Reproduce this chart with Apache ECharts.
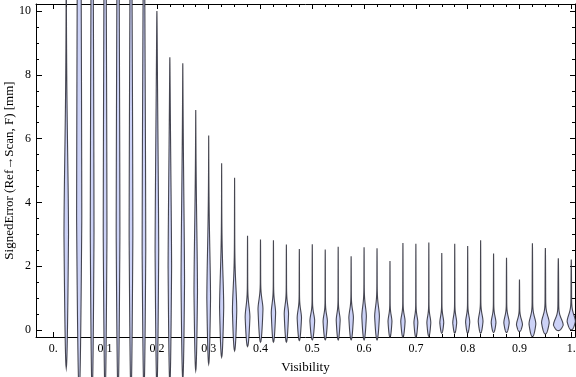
<!DOCTYPE html>
<html lang="en">
<head>
<meta charset="UTF-8">
<title>Violin chart</title>
<script src="https://cdn.jsdelivr.net/npm/echarts@6/dist/echarts.min.js"></script>
<style>html,body{margin:0;padding:0;background:#fff;}</style>
</head>
<body>
<div id="container" style="width:576px;height:377px;"></div>
<script>
// visibility bins
var positions = [0.025, 0.05, 0.075, 0.1, 0.125, 0.15, 0.175, 0.2, 0.225, 0.25,
                 0.275, 0.3, 0.325, 0.35, 0.375, 0.4, 0.425, 0.45, 0.475, 0.5,
                 0.525, 0.55, 0.575, 0.6, 0.625, 0.65, 0.675, 0.7, 0.725, 0.75,
                 0.775, 0.8, 0.825, 0.85, 0.875, 0.9, 0.925, 0.95, 0.975, 1.0];
// lowest / highest signed error in each bin (mm)
var lows = [-1.19, -2.0, -2.0, -2.0, -2.0, -2.0, -1.9, -1.8, -1.7, -1.55,
            -1.27, -1.06, -0.85, -0.65, -0.52, -0.38, -0.38, -0.38, -0.33, -0.31,
            -0.31, -0.31, -0.31, -0.31, -0.31, -0.23, -0.23, -0.23, -0.2, -0.1,
            -0.1, -0.1, -0.1, -0.08, -0.08, -0.05, -0.21, -0.13, -0.02, 0.0];
var highs = [12.5, 30, 25, 25, 25, 22, 20, 10.0, 8.55, 8.36,
             6.9, 6.1, 5.23, 4.77, 2.95, 2.84, 2.81, 2.68, 2.54, 2.69,
             2.52, 2.61, 2.31, 2.59, 2.56, 2.16, 2.73, 2.70, 2.74, 2.41,
             2.70, 2.63, 2.81, 2.40, 2.26, 1.58, 2.72, 2.57, 2.25, 2.21];
// where each violin is widest (mm)
var modes = [3.0, 3.5, 3.0, 3.0, 3.0, 3.0, 2.5, 2.5, 2.0, 1.5,
             1.2, 1.0, 0.7, 0.6, 0.4, 0.65, 0.53, 0.5, 0.37, 0.28,
             0.26, 0.3, 0.38, 0.42, 0.42, 0.26, 0.26, 0.22, 0.22, 0.22,
             0.22, 0.24, 0.26, 0.22, 0.22, 0.16, 0.18, 0.22, 0.15, 0.26];
// widest half width (visibility units)
var halfWidths = [0.0044, 0.0050, 0.0036, 0.0036, 0.0036, 0.0036, 0.0035, 0.0035, 0.0034, 0.0034,
                  0.0034, 0.0036, 0.0040, 0.0042, 0.0046, 0.0048, 0.0042, 0.0042, 0.0042, 0.0046,
                  0.0042, 0.0038, 0.0044, 0.0044, 0.0046, 0.0038, 0.0042, 0.0038, 0.0038, 0.0038,
                  0.0038, 0.0040, 0.0046, 0.0046, 0.0052, 0.0058, 0.0066, 0.0074, 0.0094, 0.0080];
// how far the bulge reaches upward (mm)
var spreads = [3.0, 15, 10, 10, 10, 9, 8, 5, 4, 3.5,
               2.5, 1.8, 1.2, 0.8, 0.35, 0.3, 0.3, 0.28, 0.25, 0.22,
               0.22, 0.22, 0.25, 0.32, 0.32, 0.2, 0.2, 0.2, 0.2, 0.2,
               0.2, 0.2, 0.22, 0.2, 0.2, 0.18, 0.22, 0.22, 0.2, 0.22];

var xTicks = [0, 0.1, 0.2, 0.3, 0.4, 0.5, 0.6, 0.7, 0.8, 0.9, 1.0];
var xTickLabels = ['0.', '0.1', '0.2', '0.3', '0.4', '0.5', '0.6', '0.7', '0.8', '0.9', '1.'];
var xMinor = [0.025, 0.05, 0.075, 0.125, 0.15, 0.175, 0.225, 0.25, 0.275, 0.325, 0.35, 0.375,
              0.425, 0.45, 0.475, 0.525, 0.55, 0.575, 0.625, 0.65, 0.675, 0.725, 0.75, 0.775,
              0.825, 0.85, 0.875, 0.925, 0.95, 0.975];
var yTicks = [0, 2, 4, 6, 8, 10];
var yTickLabels = ['0', '2', '4', '6', '8', '10'];
var yMinor = [0.5, 1, 1.5, 2.5, 3, 3.5, 4.5, 5, 5.5, 6.5, 7, 7.5, 8.5, 9, 9.5];

var xMin = -0.0334, xMax = 1.0072, yMin = -0.22, yMax = 10.22;
var font = '"Liberation Serif", "DejaVu Serif", serif';

function makeAxis(pos, min, max, ticks, len, main) {
    return {
        type: 'value', position: pos, min: min, max: max,
        axisLine: {show: main, onZero: false, lineStyle: {color: '#000', width: 1}},
        axisTick: {show: true, inside: true, length: len, customValues: ticks, lineStyle: {color: '#000'}},
        axisLabel: {show: false},
        splitLine: {show: false}
    };
}

var xAxes = [makeAxis('bottom', xMin, xMax, xTicks, 5, true), makeAxis('bottom', xMin, xMax, xMinor, 3, false),
             makeAxis('top', xMin, xMax, xTicks, 5, true), makeAxis('top', xMin, xMax, xMinor, 3, false)];
xAxes[0].axisLabel = {
    show: true, customValues: xTicks, margin: 6, color: '#000', fontFamily: font, fontSize: 12,
    formatter: function (v) { return xTickLabels[xTicks.indexOf(v)]; }
};
xAxes[0].name = 'Visibility';
xAxes[0].nameLocation = 'middle';
xAxes[0].nameGap = 24;
xAxes[0].nameMoveOverlap = false;
xAxes[0].nameTextStyle = {color: '#000', fontFamily: font, fontSize: 13};

var yAxes = [makeAxis('left', yMin, yMax, yTicks, 6, true), makeAxis('left', yMin, yMax, yMinor, 3, false),
             makeAxis('right', yMin, yMax, yTicks, 5, true), makeAxis('right', yMin, yMax, yMinor, 3, false)];
yAxes[0].axisLabel = {
    show: true, customValues: yTicks, margin: 5, color: '#000', fontFamily: font, fontSize: 12,
    formatter: function (v) { return yTickLabels[yTicks.indexOf(v)]; }
};
yAxes[0].name = 'SignedError (Ref\u2192Scan, F) [mm]';
yAxes[0].nameLocation = 'middle';
yAxes[0].nameGap = 20;
yAxes[0].nameMoveOverlap = false;
yAxes[0].nameTextStyle = {color: '#000', fontFamily: font, fontSize: 13};

var violinData = positions.map(function (x, i) {
    return [x, lows[i], highs[i], modes[i], halfWidths[i], spreads[i]];
});

function renderViolin(params, api) {
    var x = api.value(0), lo = api.value(1), hi = api.value(2);
    var mode = api.value(3), w = api.value(4), s = api.value(5);
    var half = api.size([w, 0])[0];
    var right = [], left = [];
    var n = 160;
    for (var k = 0; k <= n; k++) {
        var y = lo + (hi - lo) * k / n;
        var f;
        if (y <= mode) {
            f = Math.sqrt((y - lo) / (mode - lo));
        } else {
            f = (0.9 * Math.exp(-0.5 * Math.pow((y - mode) / s, 2)) + 0.1) * Math.sqrt((hi - y) / (hi - mode));
        }
        var c = api.coord([x, y]);
        right.push([c[0] + half * f, c[1]]);
        left.unshift([c[0] - half * f, c[1]]);
    }
    return {
        type: 'polygon',
        shape: {points: right.concat(left)},
        style: {fill: '#ccd2f7', stroke: 'rgba(40,40,50,0.85)', lineWidth: 1.1}
    };
}

var myChart = echarts.init(document.getElementById('container'), null, {renderer: 'canvas'});
var option = {
    animation: false,
    backgroundColor: '#fff',
    grid: {left: 36, right: 1, top: 4, bottom: 40, outerBoundsMode: 'none'},
    xAxis: xAxes,
    yAxis: yAxes,
    series: [{
        type: 'custom',
        xAxisIndex: 0,
        yAxisIndex: 0,
        clip: false,
        renderItem: renderViolin,
        encode: {x: 0, y: [1, 2]},
        data: violinData
    }]
};
myChart.setOption(option);
</script>
</body>
</html>
